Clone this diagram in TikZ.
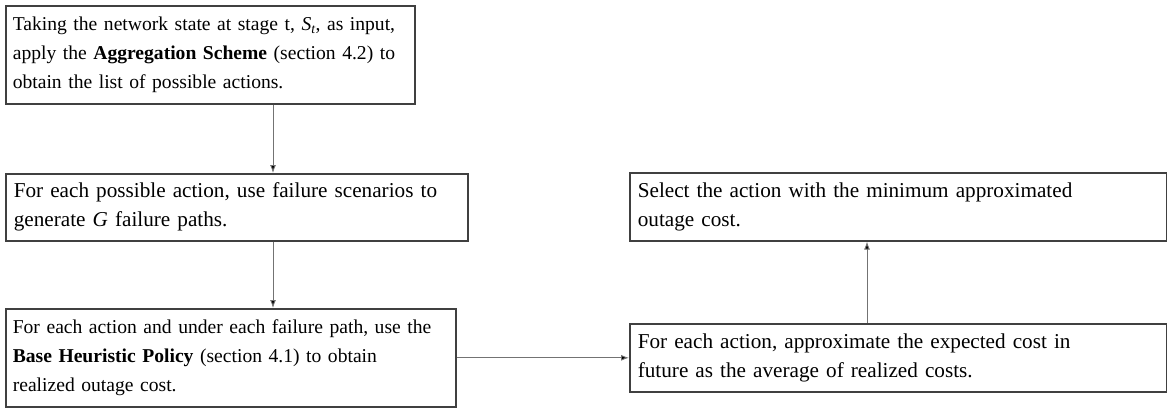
\documentclass[tikz,border=0pt]{standalone}
\usepackage{fontspec}
\setmainfont{Liberation Serif}
\usetikzlibrary{arrows.meta,calc}
\begin{document}
\begin{tikzpicture}[x=1pt,y=-1pt,
  box/.style={draw=black!75,line width=1.6pt,anchor=north west,inner xsep=8pt,inner ysep=2pt,
    align=left,font=\fontsize{21.2}{29}\selectfont},
  small/.style={font=\fontsize{19.6}{28.8}\selectfont,inner xsep=7pt},
  arr/.style={draw=black!55,line width=0.9pt,-{Latex[length=8pt,width=6pt,fill=black]}}]
\useasboundingbox (0,0) rectangle (1167,407);
\node[box,small,text width=395pt,minimum height=98pt] (b1) at (5,5)
  {Taking the network state at stage t, \textit{S\textsubscript{t}}, as input,\\ apply the \textbf{Aggregation Scheme} (section 4.2) to\\ obtain the list of possible actions.};
\node[box,text width=446pt,minimum height=67pt] (b2) at (5,173)
  {For each possible action, use failure scenarios to\\ generate \textit{G} failure paths.};
\node[box,small,text width=436pt,minimum height=98pt] (b3) at (5,308)
  {For each action and under each failure path, use the\\ \textbf{Base Heuristic Policy} (section 4.1) to obtain\\ realized outage cost.};
\node[box,text width=521pt,minimum height=68pt] (b4) at (629,323)
  {For each action, approximate the expected cost in\\ future as the average of realized costs.};
\node[box,text width=521pt,minimum height=68pt] (b5) at (629,172)
  {Select the action with the minimum approximated\\ outage cost.};
\coordinate (c1) at (273,0);
\coordinate (c2) at (867,0);
\draw[arr] (b1.south -| c1) -- (b2.north -| c1);
\draw[arr] (b2.south -| c1) -- (b3.north -| c1);
\draw[arr] (b3.east) -- (b4.west |- b3.east);
\draw[arr] (b4.north -| c2) -- (b5.south -| c2);
\end{tikzpicture}
\end{document}
